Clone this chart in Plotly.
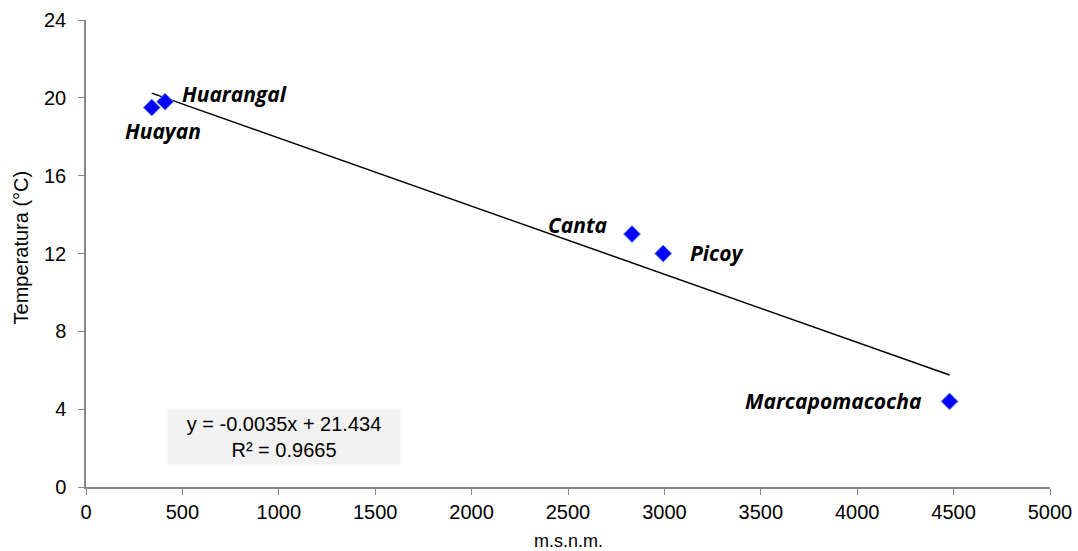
import plotly.graph_objects as go

# Estaciones: altitud (m.s.n.m.) y temperatura media (°C)
estaciones = ["Huayan", "Huarangal", "Canta", "Picoy", "Marcapomacocha"]
altitud = [341, 410, 2832, 2994, 4479]
temperatura = [19.5, 19.8, 13.0, 12.0, 4.4]

# Línea de tendencia lineal (coeficientes de la ecuación mostrada)
pendiente = -0.0035
intercepto = 21.434
r2 = 0.9665

x_tick_vals = [0, 500, 1000, 1500, 2000, 2500, 3000, 3500, 4000, 4500, 5000]
y_tick_vals = [0, 4, 8, 12, 16, 20, 24]

x_tend = [min(altitud), max(altitud)]
y_tend = [pendiente * x + intercepto for x in x_tend]

fig = go.Figure()

fig.add_trace(go.Scatter(
    x=x_tend, y=y_tend, mode="lines",
    line=dict(color="black", width=1.5),
    hoverinfo="skip", showlegend=False,
))

fig.add_trace(go.Scatter(
    x=altitud, y=temperatura, mode="markers",
    marker=dict(symbol="diamond", size=13, color="#0000FF",
                line=dict(color="#6f8fd8", width=1)),
    showlegend=False,
))

# Etiquetas de cada estación
label_pos = {
    "Huayan": dict(xanchor="center", yanchor="middle", xshift=11, yshift=-23),
    "Huarangal": dict(xanchor="left", yanchor="middle", xshift=15, yshift=8),
    "Canta": dict(xanchor="right", yanchor="middle", xshift=-22, yshift=9),
    "Picoy": dict(xanchor="left", yanchor="middle", xshift=25, yshift=1),
    "Marcapomacocha": dict(xanchor="right", yanchor="middle", xshift=-26, yshift=0),
}
for nombre, x, y in zip(estaciones, altitud, temperatura):
    fig.add_annotation(
        x=x, y=y, text="<b><i>" + nombre + "</i></b>", showarrow=False,
        font=dict(family="Open Sans, Liberation Sans, sans-serif", size=21, color="black"),
        **label_pos[nombre],
    )

# Caja con la ecuación de la tendencia
fig.add_annotation(
    x=0.084, y=0.047, xref="paper", yref="paper",
    xanchor="left", yanchor="bottom",
    text=f"y = {pendiente}x + {intercepto}<br>R² = {r2}",
    showarrow=False, align="center",
    bgcolor="#f2f2f2", borderpad=4, width=224, height=47,
    font=dict(family="Liberation Sans, Arial, sans-serif", size=20, color="black"),
)

# Títulos de los ejes
title_font = dict(family="Liberation Sans, Arial, sans-serif", color="black")
fig.add_annotation(
    x=0.5, y=-0.1156, xref="paper", yref="paper",
    xanchor="center", yanchor="middle", showarrow=False,
    text="m.s.n.m.", font=dict(size=18, **title_font),
)
fig.add_annotation(
    x=0, y=0.513, xref="paper", yref="paper", xshift=-65,
    xanchor="center", yanchor="middle", showarrow=False, textangle=-90,
    text="Temperatura (°C)", font=dict(size=20, **title_font),
)

tick_font = dict(family="Liberation Sans, Arial, sans-serif", size=20, color="black")
axis_common = dict(
    showgrid=False, zeroline=False, showline=True, automargin=False,
    linecolor="#868686", linewidth=1.5,
    ticks="outside", ticklen=6, tickcolor="#868686", tickwidth=1,
    tickfont=tick_font,
)

fig.update_xaxes(range=[0, 5000], tickvals=x_tick_vals, **axis_common)
fig.update_yaxes(range=[0, 24], tickvals=y_tick_vals, ticklabelstandoff=8, **axis_common)

fig.update_layout(
    width=1078, height=551,
    margin=dict(l=86, r=28, t=20, b=64),
    plot_bgcolor="white", paper_bgcolor="white",
)

fig.write_html("out.html")
